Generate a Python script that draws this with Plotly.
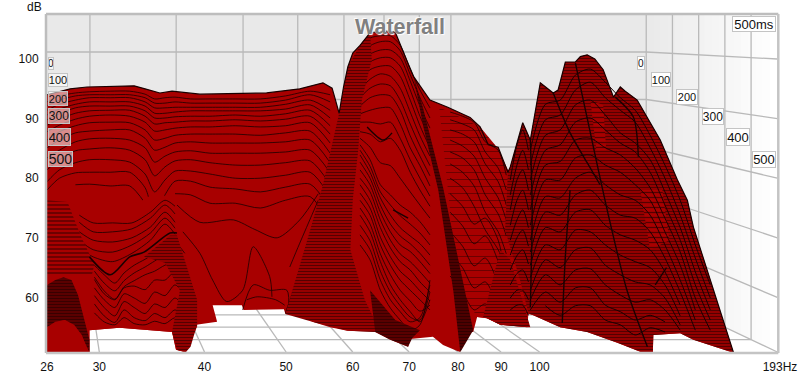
import math
import plotly.graph_objects as go

RED = "#a80000"
FONT = "Liberation Sans, Arial, sans-serif"

TICK_HZ = [26, 30, 40, 50, 60, 70, 80, 90, 100, 193]
TICK_TEXT = ["26", "30", "40", "50", "60", "70", "80", "90", "100", "193Hz"]
TICK_DB = [60, 70, 80, 90, 100]
TIME_MS = [0, 100, 200, 300, 400, 500]

# silhouette of the waterfall
ENV_HZ = [26, 27.7, 29, 33, 34, 35.4, 36.6, 39.5, 47.4, 51.9, 55.3, 56.7, 57.1, 57.8, 58.5, 59.2, 60, 61.2, 62.9, 64.3, 66.1, 67.4, 69.3, 70.9, 74.1, 77.8, 82.7, 85, 86.9, 89.3, 91.7, 92.3, 95.5, 97.5, 100.2, 103.8, 105.2, 107.3, 110.3, 111.8, 113.9, 116.3, 119, 122.4, 124.7, 126.4, 130.6, 139.1, 145.8, 149.8, 152.3, 170]
ENV_DB = [94, 95, 95.3, 95.5, 95, 94.3, 94.6, 94.1, 94.3, 95, 96, 95.1, 93.6, 90.9, 95.3, 98.7, 101, 102.3, 104.4, 104.6, 104.7, 104.5, 100.3, 97, 93.1, 91.9, 90.2, 88.6, 85.6, 85.2, 81, 81.9, 89.3, 86.4, 96, 94.3, 94.8, 99.5, 99.5, 100.4, 100.7, 100, 98.2, 93.6, 95.3, 94.6, 93.1, 86.4, 79.7, 76.3, 71.8, 50.7]
LOW_HZ = [170, 152.3, 146.9, 136.5, 136.3, 132.7, 123.7, 113.9, 105.8, 98.3, 96.1, 97, 96.7, 89.8, 86.6, 84.3, 83.4, 81, 80.5, 76.8, 74.7, 70.2, 69.8, 66.5, 63.8, 59.1, 56.4, 53.7, 52.7, 49.9, 49.7, 44.5, 44.3, 40.9, 41.4, 39.1, 38, 37, 36.6, 31.7, 29.2, 29.2, 26]
LOW_DB = [50.7, 52.9, 54, 53.7, 50.7, 50.7, 52.4, 54.2, 55, 57, 57.4, 57.4, 55, 55.4, 56.5, 56.7, 54.2, 54.2, 50.8, 52, 53.4, 53, 51.7, 52.9, 54.2, 54.4, 55, 55.9, 56.9, 57.2, 58, 57.9, 58.7, 58.7, 55.9, 55.4, 50.8, 51.2, 54.2, 54.9, 54.5, 50.7, 50.7]

# early decay over the 26-57 Hz plateau
PLATEAU_HZ = [26, 26.9, 28.1, 29.2, 30.9, 32.6, 34, 34.9, 35.9, 36.9, 38.5, 40.6, 43.5, 46.6, 49.9, 53.4, 56.4]
PLATEAU_DB = [
    [92.8,93.8,94.3,94.5,94.6,94.6,94.1,93.3,93.5,93.6,93.3,93.3,93.3,93.3,93.8,94.6,94],
    [92.1,93.1,93.8,94,94,94,93.5,92.6,92.6,92.8,92.6,92.6,92.6,92.6,93.1,94,92.8],
    [91.4,92.4,93.1,93.5,93.5,93.5,92.8,91.8,91.8,91.9,91.9,91.9,91.9,91.9,92.4,93.1,91.4],
    [90.6,91.6,92.4,92.8,92.8,92.8,92.1,90.9,90.9,91.1,91.3,91.3,91.3,91.3,91.6,92.3,90.1],
    [89.8,90.8,91.8,92.1,92.1,92.1,91.3,90.1,90.1,90.3,90.4,90.4,90.6,90.4,90.8,91.4,88.8],
    [88.9,89.9,90.9,91.3,91.4,91.4,90.4,89.1,89.3,89.4,89.6,89.6,89.8,89.6,89.9,90.4,87.4],
    [87.8,88.9,89.9,90.4,90.6,90.4,89.4,87.9,88.1,88.4,88.6,88.6,88.8,88.6,88.8,89.3,85.9],
    [86.4,87.8,88.8,89.3,89.4,89.3,88.1,86.4,86.7,87.2,87.4,87.4,87.4,87.2,87.6,87.9,84.2],
    [85.1,86.4,87.6,87.9,88.1,88.1,86.7,84.7,85.2,85.9,86.1,85.9,85.9,85.9,86.1,86.4,82.6],
    [83.4,84.7,86.1,86.6,86.7,86.4,85.1,82.7,83.7,84.4,84.6,84.2,84.2,84.2,84.4,84.7,80.9],
    [81.4,83.1,84.6,84.9,85.1,84.7,83.1,80.4,81.9,82.9,83.1,82.6,82.2,82.2,82.6,82.9,78.9],
    [79.4,81.4,82.6,83.1,83.1,82.7,80.7,77.7,79.7,81.2,81.2,80.7,80,80,80.5,81,76.9],
    [78,80,80.9,81,81,81,78.4,73.8,77.2,79.5,79.5,78.5,78.2,77.7,78.5,79,74.7],
    [None,None,78.9,79,78.7,78.7,75.8,None,None,77.4,77.2,75.8,75.8,75,76.3,76.9,72.1],
]
LATE_LINES = [
    ([37.1, 39.5, 43.3, 45.9, 48.8, 51.9, 54.6], [75.5, 72.6, 73, 71.4, 70, 73, 77.4]),
    ([37.7, 39.5, 40.9, 42.5, 44.4, 45.7, 47.8, 48.1], [71, 67.4, 62.9, 59.3, 61.2, 68.5, 63.5, 60.1]),
    ([50.5, 51.9, 54.6], [65.1, 69.1, 76.3]),
    ([49.9, 51.9, 54.1], [57.4, 64.1, 70.5]),
    ([44.4, 45.7, 47.8, 50.1, 50.3], [57.9, 62.1, 61.2, 61.2, 57.4]),
    ([44.9, 46.2, 48.6, 49.8], [59.6, 60.1, 59.6, 58.7]),
]

# 26-40 Hz mound
MOUND_HZ = [26, 27.5, 28.5, 30.9, 33.5, 35.4, 36.6, 37.4, 39.2, 39.2, 38, 37, 36.6, 31.7, 29.2, 29.2, 26]
MOUND_DB = [76.3, 76, 75.2, 75.2, 76, 78, 75.5, 70.3, 61.9, 55.1, 50.8, 51.2, 54.2, 54.9, 54.5, 50.8, 50.8]
MOUND_UP_HZ = [28.4, 29.5, 31.1, 32.8, 34.5, 35.9, 36.9]
MOUND_UP_DB = [
    [73.8, 72.5, 72.5, 72.5, 74.3, 76.3, 75.3],
    [72.6, 71, 71, 71.5, 73.3, 75.5, 74],
    [71, 69.6, 69.3, 70, 71.8, 74.3, 72.6],
    [69.6, 68, 67.6, 68.8, 70.8, 73.3, 71.6],
    [68.3, 66.8, 66, 67.4, 69.6, 72.3, 70.6],
]
MOUND_RIDGE_HZ = [29.2, 30.9, 32.6, 33.9, 36.4, 37.1]
MOUND_RIDGE_DB = [66.8, 63.8, 66.8, 67.6, 70.8, 70.8]
MOUND_LOW_HZ = [29.6, 30.4, 31.3, 32.1, 33, 34, 34.9, 35.9, 36.9, 37.9]
MOUND_LOW_DB = [
    [65.4, 63.8, 62.4, 64.1, 65.4, 66.4, 67.4, 68.3, 69.1, 67.4],
    [64.4, 62.4, 61.1, 62.8, 64.1, 65.1, 66.1, 67.1, 67.4, 65.4],
    [63.4, 61.1, 59.7, 61.8, 62.8, 63.8, 64.4, 65.4, 65.8, 63.8],
    [63, 60.6, 59.6, 61.6, 61.9, 61.3, 62.9, 62.9, 64.3, 62.3],
    [61.6, 59.6, 58.3, 60.6, 59.9, 59, 60.9, 60.3, 62.1, 60.3],
    [60.3, 58.3, 56.9, 59.3, 58.3, 57.3, 58.9, 58.3, 59.9, 58.3],
    [58.9, 56.9, 55.8, 57.9, 56.6, 56.1, 57.3, 56.6, 57.9, 56.6],
    [57.4, 55.9, 55.4, 56.6, 55.6, 55.4, 56, 55.6, 56.6, 55.9],
]
DENSE_A_HZ = [26, 27.5, 28.5, 29.6, 29.4, 28.4, 26]
DENSE_A_DB = [76.3, 76, 70.4, 65.5, 63.8, 63.6, 63.8]
DENSE_B_HZ = [33.9, 36.4, 37.1, 39.2, 39.2, 38.5, 38, 37.1, 36.6, 37.4, 35.9]
DENSE_B_DB = [66.8, 70.4, 70.4, 59.6, 55.4, 51.7, 50.8, 51.2, 54.2, 61.2, 65.8]
DENSE_C_HZ = [26, 26.6, 27.2, 27.8, 28.3, 28.8, 29.2, 29.2, 28.6, 28, 27.3, 26.6, 26]
DENSE_C_DB = [62.1, 62.9, 63.4, 62.9, 60.4, 56.2, 52.9, 50.8, 53.5, 55.2, 56.2, 55.8, 55]
FRONT_HZ = [26, 26.6, 27.3, 28, 28.6, 29.1, 26]
FRONT_DB = [55, 55.9, 56.2, 55.4, 53.7, 50.8, 50.8]

# 65 Hz peak
PEAK_HZ = [61.2, 62.9, 64.7, 66.5, 68.3, 70.2, 72.1, 74.1]
PEAK_DB = [
    [101.5,103.5,103.9,103.9,102.3,98.3,94.8,91.8],
    [100.2,102.2,102.9,102.9,101.4,97.4,93.5,90.1],
    [98.8,100.8,101.5,101.5,100.2,96.3,92.1,88.4],
    [97.5,99.5,100.2,100.2,98.8,94.8,90.4,86.7],
    [96.1,98.2,98.8,98.8,97.1,93.1,88.8,85.1],
    [94.8,96.6,97.5,97.1,95.1,91.1,87.1,83.7],
    [93.5,95.1,95.8,95.5,93.1,89.1,85.4,82.1],
    [92.1,93.5,94,93.8,91.4,87.1,83.7,80.4],
    [90.8,91.4,91.8,91.8,89.1,85.1,82.1,78.7],
    [89.4,89.4,89.1,89.4,86.7,83.1,80,77],
    [87.8,87.4,86.1,86.7,84.7,81,78,75.3],
    [86.7,85.2,82.6,82.1,80,77.7,75.5,73.3],
    [85.6,83.1,78.9,77.2,75.5,74.3,72.7,70.5],
    [84.7,82,77.7,75.5,73.7,72.3,70.8,68.8],
    [83.9,81,76.7,73.8,71.7,70.3,69,67.1],
    [82.7,80,75.5,72.3,70.3,69,67.4,65.4],
    [81.4,78.9,74.3,71,68.8,67.7,66,64],
    [80,77.7,73,69.6,67.3,66,64.3,62.4],
    [78.9,76.3,71.7,68.3,66,64.6,62.6,60.9],
    [77.5,75,70.1,66.8,64.4,62.9,61.1,59.4],
    [76.3,73.8,68.8,65.4,62.9,61.2,59.6,57.9],
    [75,72.3,67.3,63.8,61.2,59.4,57.7,58.7],
    [73.8,71,66,62.1,59.6,57.6,55.9,59.6],
    [72.1,69.5,64.4,60.9,58.6,56.7,56.2,60.9],
    [70.5,68,62.9,59.6,57.6,55.9,56.6,62.1],
    [68.8,66.3,61.2,58.2,56.2,54.5,55.4,62.9],
]
FLANK_HZ = [57.8, 59.2, 61.2, 62.9, 63.2, 61.5, 60.9, 60, 59.6, 62, 64.7, 59.2, 53.7, 49.9, 53.4, 55.3]
FLANK_DB = [90.9, 98.7, 102.3, 104.4, 99.9, 93.1, 84.7, 76.4, 68, 59.6, 54.2, 54.4, 55.9, 57.2, 71.3, 78.9]
VEE_HZ = [62.9, 67.4, 72.1, 70.6, 69.8, 66.5, 63.8]
VEE_DB = [61.2, 56.2, 54.5, 53.2, 51.7, 52.9, 54.2]
BAND_HZ = [70.9, 72.7, 76.8, 83.4, 80.5, 79, 75.8, 72.7]
BAND_DB = [96.9, 91.8, 78.5, 54.5, 50.8, 61, 78, 88.9]

# 78-91 Hz
MID_HZ = [78.3, 81, 83.6, 86.2, 89.3, 91.3]
MID_DB = [
    [91.1,90.4,89.4,86.1,84.7,80.5],
    [89.8,89.1,88.1,84.4,81.7,78],
    [88.1,87.4,86.1,82.4,79.4,75.5],
    [86.4,85.4,83.7,80,76.7,73],
    [84.4,83.4,81.4,77.2,74,70.3],
    [82.4,81,78.7,74.3,71,67.3],
    [80,78.4,75.3,71.3,68,64.6],
    [77.4,75.3,72.3,73.3,69.6,62.1],
    [74.3,72,69,70.3,66,59.9],
    [71,68.6,65.3,66.6,62.3,57.9],
    [67.3,65,61.6,62.6,58.6,56.2],
    [63.6,60.9,57.9,58.9,56.2,55.5],
]
MID_AREA_HZ = [76, 85, 89, 92, 96, 97, 89.8, 86.6, 84.3, 80]
MID_AREA_DB = [91.9, 88.6, 85.2, 81, 65, 55, 55.4, 56.5, 56.7, 62]
SMALL_HZ = [85.7, 89.8, 92.3, 97.5, 89.8, 86.6]
SMALL_DB = [56.7, 68, 66.3, 55, 55.4, 56.5]

# 95 Hz narrow mode
NARROW_HZ = [92.3, 94, 95.5, 97]
NARROW_DB = [
    [79.7, 85.6, 88.1, 84.7],
    [77.2, 82.2, 84.7, 81.4],
    [74.7, 79.7, 81.4, 78],
    [72.1, 76.3, 78, 74.7],
    [69.6, 73, 74.7, 71.7],
    [67.1, 70, 71.3, 68.6],
    [64.6, 67, 68, 65.6],
    [62.1, 64, 64.6, 62.6],
    [59.9, 61.2, 61.2, 59.6],
    [57.9, 58.7, 58.7, 57],
]

# right-hand modes
RIGHT_EDGE_HZ = [94.8, 91]
RIGHT_EDGE_DB = [62.9, 71.3]
RIGHT_HZ = [97.5, 101.6, 105.8, 110.3, 114.9, 119.7, 124.7, 129.9, 135.3, 140.9, 146.9, 153.1, 159.5]
RIGHT_DB = [
    [84.7,92.4,93.1,97.3,98.3,96.1,93.5,91.4,87.2,82.2,76.3,68.8,62.1],
    [82.2,89.8,90.6,94.8,96.1,93.5,91.4,89.4,85.1,80,73.8,66.6,59.9],
    [79.7,87.2,88.1,92.3,93.1,90.6,87.6,85.9,83.1,77.7,71.7,64.3,57.9],
    [77.2,84.7,85.6,89.4,90.1,88.1,85.9,84.4,81,75.5,69.6,62.1,56.2],
    [74.7,82.2,82.8,86.4,86.7,85.1,83.9,81.7,78.4,73.3,67.6,59.9,54.5],
    [72.1,79.7,79.7,83.4,83.9,82.2,81,78.9,76.3,71,65.4,57.9,None],
    [69.6,76.9,76.7,80,81,78.9,77.2,76.3,73.8,68.8,62.9,56.2,None],
    [67.6,74.3,73.8,77.2,78,75.5,73.8,73.3,71,66.6,60.9,54.5,None],
    [65.4,71.7,71,74.3,74.7,72.1,70.5,69.6,68,64.3,58.7,None,None],
    [63.3,68.8,68,71.3,71,68.8,67.1,66,65,62.1,56.9,None,None],
    [61.2,66.3,65,68,68.3,65.4,63.8,62.6,62.1,59.9,55.4,None,None],
    [59.6,63.8,62.1,64.6,64.8,62.1,60.4,59.2,59.6,57.9,54.5,None,None],
    [57.9,60.9,59.2,61.6,61.6,58.7,57.6,56.2,57,55.9,None,None,None],
    [None,58.6,57,58.6,58.6,56.2,55.4,53.7,54.9,54.2,None,None,None],
]
LANES = [
    ([114.9, 119, 120, 116.8], [93.1, 92.3, 84.7, 84.7]),
    ([131.7, 139.9, 142.6, 135.3], [78, 78, 69.6, 68]),
]
RIDGES = [
    ([110.3, 112.7, 114.9, 117.1, 121.3, 127, 134.3], [99.3, 93.1, 87.6, 82.2, 72.5, 61.2, 51.7]),
    ([103.8, 108.7, 113.9, 118], [94.3, 87.6, 82.6, 78.9]),
    ([123, 129.2, 131], [93.6, 90.3, 83.6]),
    ([137.2, 139.1, 141.5], [62.1, 63.4, 65]),
    ([97.5, 98, 97.5], [86.4, 74.7, 58.4]),
    ([106.4, 107.3, 108.7], [55.7, 66.8, 78]),
    ([62.4, 65.2, 66.8], [88.6, 86.4, 87.6]),
    ([67, 69.8], [74.7, 73.3]),
]

L, R, T, B = 47, 779.7, 15, 352
FRAME_R = 777


def px(x):
    return (x - L) / (R - L)


def py(y):
    return 1 - (y - T) / (B - T)


fig = go.Figure()


def solid(hz, db, colour=RED):
    fig.add_trace(go.Scatter(x=hz, y=db, mode="none", fill="toself", fillcolor=colour, hoverinfo="skip"))


def hatch(hz, db, size=3, solidity=0.38, bg=RED):
    fig.add_trace(go.Scatter(
        x=hz, y=db, mode="none", fill="toself", hoverinfo="skip",
        fillpattern=dict(shape="-", size=size, solidity=solidity, fgcolor="#000000", bgcolor=bg),
    ))


def line(hz, db, width=0.8, spline=True):
    fig.add_trace(go.Scatter(
        x=hz, y=db, mode="lines", hoverinfo="skip",
        line=dict(color="#1a0000", width=width, shape="spline" if spline else "linear", smoothing=0.8),
    ))


solid(ENV_HZ + LOW_HZ, ENV_DB + LOW_DB)
for row in PLATEAU_DB:
    line(PLATEAU_HZ, row)
for hz, db in LATE_LINES:
    line(hz, db)

solid(MOUND_HZ, MOUND_DB)
for row in MOUND_UP_DB:
    line(MOUND_UP_HZ, row)
for row in MOUND_LOW_DB:
    line(MOUND_LOW_HZ, row)
hatch(DENSE_A_HZ, DENSE_A_DB, size=4, solidity=0.35)
hatch(DENSE_B_HZ, DENSE_B_DB, size=3, solidity=0.5)
line(MOUND_RIDGE_HZ, MOUND_RIDGE_DB, width=1.6)
hatch(DENSE_C_HZ, DENSE_C_DB, size=3, solidity=0.6, bg="#700000")
solid(FRONT_HZ, FRONT_DB)

hatch(MID_AREA_HZ, MID_AREA_DB, size=7, solidity=0.1)
for row in MID_DB:
    line(MID_HZ, row)
hatch(SMALL_HZ, SMALL_DB, size=3, solidity=0.45)

for row in PEAK_DB:
    line(PEAK_HZ, row)
hatch(FLANK_HZ, FLANK_DB, size=3, solidity=0.48)
hatch(VEE_HZ, VEE_DB, size=3, solidity=0.6, bg="#700000")
hatch(BAND_HZ, BAND_DB, size=3, solidity=0.6, bg="#600000")

right_top = [(h, d) for h, d in zip(ENV_HZ, ENV_DB) if h >= 91.7]
right_low = [(h, d) for h, d in zip(LOW_HZ, LOW_DB) if h >= 97]
right = right_top + right_low + list(zip(RIGHT_EDGE_HZ, RIGHT_EDGE_DB))
hatch([p[0] for p in right], [p[1] for p in right], size=3, solidity=0.5)
for hz, db in LANES:
    hatch(hz, db, size=5, solidity=0.25)
for row in RIGHT_DB:
    line(RIGHT_HZ, row, width=1)
for row in NARROW_DB:
    line(NARROW_HZ, row, width=1)
for hz, db in RIDGES:
    line(hz, db, width=1.4)

line(ENV_HZ, ENV_DB, width=1.2, spline=False)

# ---- walls and floor, drawn under the traces ----
shapes = []


def rect(x0, y0, x1, y1, colour, layer="below"):
    shapes.append(dict(type="rect", xref="paper", yref="paper", x0=px(x0), x1=px(x1), y0=py(y0), y1=py(y1),
                       fillcolor=colour, line_width=0, layer=layer))


def seg(x0, y0, x1, y1, colour="#b9b9b9", width=1.3, layer="below"):
    shapes.append(dict(type="line", xref="paper", yref="paper", x0=px(x0), x1=px(x1), y0=py(y0), y1=py(y1),
                       line=dict(color=colour, width=width), layer=layer))


def hz_px(f):
    return 47 + 365.5 * math.log(f / 26)


BACK_R = 646
rect(47, 15, BACK_R, 290, "#e9e9e9")
steps = 18
for i in range(steps):
    x0 = BACK_R + (FRAME_R - BACK_R) * i / steps
    x1 = BACK_R + (FRAME_R - BACK_R) * (i + 1) / steps
    v = int(233 + 22 * (i + 1) / steps)
    rect(x0, 15, x1 + 0.5, 352, f"rgb({v},{v},{v})")
shapes.append(dict(type="path", xref="paper", yref="paper", layer="below", fillcolor="#ffffff", line_width=0,
                   path=f"M {px(47)} {py(290)} L {px(BACK_R)} {py(290)} L {px(FRAME_R)} {py(352)} L {px(47)} {py(352)} Z"))
for f in TICK_HZ[1:-1]:
    xf = hz_px(f)
    xb = 47 + 0.82 * (xf - 47)
    seg(xb, 15, xb, 290)
    seg(xb, 290, xf, 352)
for d in [100, 90, 80, 70, 60]:
    yb = 52 + (100 - d) * 4.75
    yf = 59 + (100 - d) * 5.96
    seg(47, yb, BACK_R, yb)
    seg(BACK_R, yb, FRAME_R, yf)
seg(BACK_R, 15, BACK_R, 290)
for i, t in enumerate([100, 200, 300, 400]):
    xt = BACK_R + (FRAME_R - BACK_R) * (i + 1) / 5
    yd = 290 + 62 * (i + 1) / 5
    seg(xt, 15, xt, yd)
    seg(47, yd, xt, yd)
seg(BACK_R, 290, FRAME_R, 352)
# frame
seg(46, 14, FRAME_R + 1, 14, "#bdbdbd", 2.5, "above")
seg(46, 14, 46, 353, "#bdbdbd", 2.5, "above")
seg(46, 353, FRAME_R + 1, 353, "#c4c4c4", 2.5, "above")
seg(FRAME_R + 1, 14, FRAME_R + 1, 353, "#c4c4c4", 2.5, "above")

# ---- text ----
ann = []


def label(text, x0, x1, y0, y1, size, bg):
    ann.append(dict(
        text=text, xref="paper", yref="paper", x=px((x0 + x1) / 2), y=py((y0 + y1) / 2),
        xanchor="center", yanchor="middle", showarrow=False, width=x1 - x0 - 2, height=y1 - y0 - 2,
        font=dict(family=FONT, size=size, color="#111111"), bgcolor=bg, bordercolor="#c4c4c4",
        borderwidth=1, borderpad=0,
    ))


LEFT_BOX = [(48, 54, 57, 70, 10), (48, 68, 73, 87, 11), (48, 68, 91, 106, 11), (48, 70, 108, 124, 12), (48, 71, 128, 146, 13), (48, 73, 151, 167, 14)]
RIGHT_BOX = [(637, 645, 56, 70, 10), (651, 671, 72, 87, 11), (676, 698, 89, 105, 11), (702, 724, 108, 125, 12), (726, 750, 128, 146, 13), (752, 776, 151, 168, 13)]
for t, b in zip(TIME_MS, LEFT_BOX):
    label(str(t), b[0], b[1], b[2], b[3], b[4], "rgba(255,255,255,0.55)")
for t, b in zip(TIME_MS, RIGHT_BOX):
    label(str(t), b[0], b[1], b[2], b[3], b[4], "#ffffff")
label("500ms", 732, 776, 16, 32, 13, "#ffffff")
ann.append(dict(text="Waterfall", xref="paper", yref="paper", x=px(400), y=py(27), xanchor="center", yanchor="middle",
                showarrow=False, font=dict(family=FONT, size=21.5, color="#808080", weight="bold",
                                           shadow="1px 1px 1px #ffffff, -1px -1px 1px #ffffff")))
ann.append(dict(text="dB", xref="paper", yref="paper", x=px(34.5), y=py(7), xanchor="center", yanchor="middle",
                showarrow=False, font=dict(family=FONT, size=12, color="#111111")))

fig.update_layout(
    width=800, height=374, autosize=False, showlegend=False,
    margin=dict(l=L, r=800 - R, t=T, b=374 - B, pad=0, autoexpand=False),
    paper_bgcolor="#ffffff", plot_bgcolor="rgba(0,0,0,0)",
    shapes=shapes, annotations=ann,
    font=dict(family=FONT, size=12, color="#111111"),
    xaxis=dict(type="log", range=[math.log10(26), math.log10(193)], tickmode="array", tickvals=TICK_HZ, ticktext=TICK_TEXT,
               automargin=False, showgrid=False, zeroline=False, showline=False, ticks="outside", ticklen=4, tickcolor="rgba(0,0,0,0)"),
    yaxis=dict(range=[100 - (352 - 59) / 5.96, 100 - (15 - 59) / 5.96], tickmode="array", tickvals=TICK_DB,
               automargin=False, showgrid=False, zeroline=False, showline=False, ticks="outside", ticklen=5, tickcolor="rgba(0,0,0,0)"),
)

fig.write_html("out.html", config={"displayModeBar": False}, post_script="document.body.style.margin='0';document.body.style.overflow='hidden';")
